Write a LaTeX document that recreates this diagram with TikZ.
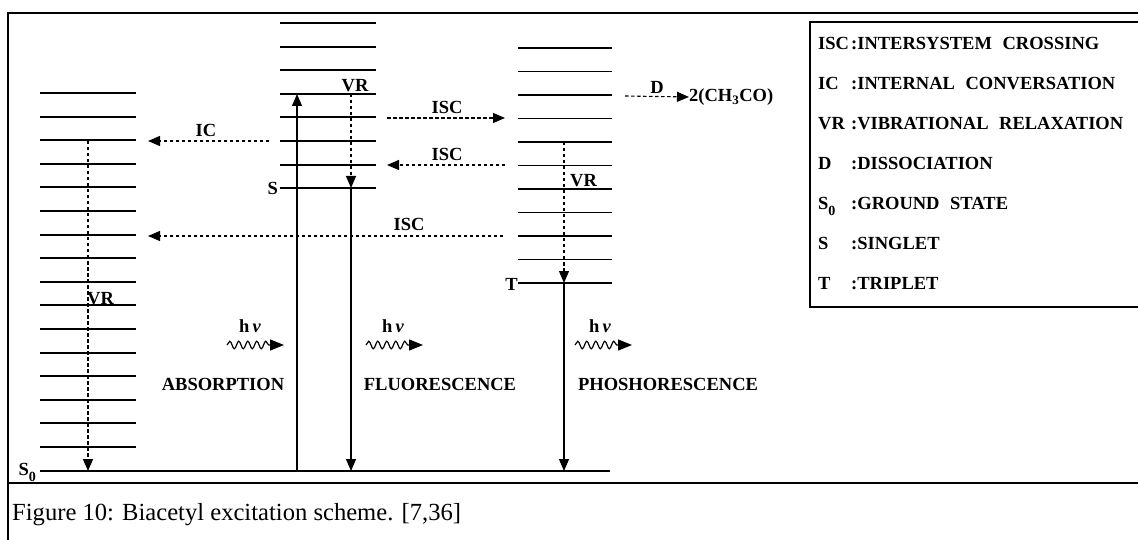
\documentclass[tikz,border=0pt]{standalone}
\usepackage{fontspec}
\setmainfont{Liberation Serif}
\usetikzlibrary{arrows.meta,decorations.pathmorphing}

\begin{document}
\begin{tikzpicture}[
    x=1pt, y=-1pt,
    panel/.style={line width=1.8pt},
    vlevel/.style={line width=1.9pt},
    trans/.style={-{Triangle[length=12pt,width=10pt]}, line width=1.1pt},
    relax/.style={-{Triangle[length=12pt,width=10pt]}, line width=1.1pt, dash pattern=on 3.5pt off 2.5pt},
    photon/.style={-{Triangle[length=14pt,width=11pt]}, line width=1.2pt, decorate,
      decoration={snake, amplitude=3.8pt, segment length=9pt, post length=14pt}},
    lbl/.style={font=\bfseries\fontsize{18.5}{20}\selectfont, inner sep=0pt},
    leg/.style={lbl, anchor=base west}
  ]
    \useasboundingbox (0,0) rectangle (1138,540);

    % Frame and caption
    \draw[panel] (1138,13) -- (8,13) -- (8,540);
    \draw[panel] (8,483) -- (1138,483);
    \node[anchor=base west, inner sep=0pt, font=\fontsize{24.6}{26}\selectfont] (caption) at (12,520)
      {Figure 10: Biacetyl excitation scheme. [7,36]};

    % Ground state S0 and its vibrational levels
    \draw[vlevel] (40,471) -- (610,471);
    \foreach \i in {0,...,15}
      \draw[vlevel] (40,{93+23.6*\i}) -- (136,{93+23.6*\i});
    \node[lbl, anchor=base east] (s0lab) at (36,475) {S\raisebox{-6pt}{\fontsize{14}{14}\selectfont 0}};

    % Singlet S
    \foreach \i in {0,...,7}
      \draw[vlevel] (280,{23+23.6*\i}) -- (376,{23+23.6*\i});
    \node[lbl, anchor=base east] (slab) at (278,195) {S};

    % Triplet T
    \foreach \i in {0,...,10}
      \draw[vlevel] (518,{48+23.5*\i}) -- (612,{48+23.5*\i});
    \node[lbl, anchor=base east] (tlab) at (518,290) {T};

    % Arrow end points
    \coordinate (absBot) at (297,471);
    \coordinate (absTop) at (297,94);
    \coordinate (vrSTop) at (351,94);
    \coordinate (fluTop) at (351,188);
    \coordinate (fluBot) at (351,471);
    \coordinate (vrTTop) at (564,142);
    \coordinate (phoTop) at (564,283);
    \coordinate (phoBot) at (564,471);
    \coordinate (vrGTop) at (88,141);
    \coordinate (vrGBot) at (88,471);
    \coordinate (icFrom) at (269,141);
    \coordinate (icTo) at (148,141);
    \coordinate (iscAFrom) at (387,118);
    \coordinate (iscATo) at (505,118);
    \coordinate (iscBFrom) at (505,165);
    \coordinate (iscBTo) at (387,165);
    \coordinate (iscCFrom) at (503,236);
    \coordinate (iscCTo) at (148,236);
    \coordinate (dFrom) at (625,96);

    % Radiative transitions
    \draw[trans] (absBot) -- (absTop);
    \draw[trans] (fluTop) -- (fluBot);
    \draw[trans] (phoTop) -- (phoBot);

    % Radiationless transitions
    \draw[relax] (vrSTop) -- (fluTop);
    \draw[relax] (vrTTop) -- (phoTop);
    \draw[relax] (vrGTop) -- (vrGBot);
    \draw[relax] (icFrom) -- (icTo);
    \draw[relax] (iscAFrom) -- (iscATo);
    \draw[relax] (iscBFrom) -- (iscBTo);
    \draw[relax] (iscCFrom) -- (iscCTo);

    % Dissociation
    \node[lbl, anchor=west] (prod) at (689,97) {2(CH\textsubscript{3}CO)};
    \draw[relax] (dFrom) -- (prod.west);
    \node[lbl, anchor=base] (dlab) at (657,94) {D};

    % Transition labels
    \node[lbl, anchor=base] (iclab) at (206,137) {IC};
    \node[lbl, anchor=base] (iscA) at (447,114) {ISC};
    \node[lbl, anchor=base] (iscB) at (447,161) {ISC};
    \node[lbl, anchor=base] (iscC) at (409,231) {ISC};
    \node[lbl, anchor=base] (vrS) at (355,92) {VR};
    \node[lbl, anchor=base west] (vrG) at (87,304) {VR};
    \node[lbl, anchor=base west] (vrT) at (570,187) {VR};

    % Photons
    \node[lbl, anchor=base] (hvA) at (250,332) {h\,{\itshape ν}};
    \node[lbl, anchor=base] (hvB) at (393,332) {h\,{\itshape ν}};
    \node[lbl, anchor=base] (hvC) at (600,332) {h\,{\itshape ν}};
    \coordinate (wA1) at (227,345); \coordinate (wA2) at (284,345);
    \coordinate (wB1) at (366,345); \coordinate (wB2) at (423,345);
    \coordinate (wC1) at (575,345); \coordinate (wC2) at (632,345);
    \draw[photon] (wA1) -- (wA2);
    \draw[photon] (wB1) -- (wB2);
    \draw[photon] (wC1) -- (wC2);
    \node[lbl, anchor=base] (absl) at (223,390) {ABSORPTION};
    \node[lbl, anchor=base] (flul) at (440,390) {FLUORESCENCE};
    \node[lbl, anchor=base] (phol) at (668,390) {PHOSHORESCENCE};

    % Legend
    \draw[line width=1.3pt] (1138,22) -- (810,22) -- (810,307) -- (1138,307);
    \node[leg] (legISC) at (818,49.5) {\makebox[33pt][l]{ISC}:INTERSYSTEM\hspace{6pt} CROSSING};
    \node[leg] (legIC) at (818,89.5) {\makebox[33pt][l]{IC}:INTERNAL\hspace{6pt} CONVERSATION};
    \node[leg] (legVR) at (818,129.5) {\makebox[33pt][l]{VR}:VIBRATIONAL\hspace{6pt} RELAXATION};
    \node[leg] (legD) at (818,169.5) {\makebox[33pt][l]{D}:DISSOCIATION};
    \node[leg] (legS0) at (818,209.5) {\makebox[33pt][l]{S\raisebox{-6pt}{\fontsize{14}{14}\selectfont 0}}:GROUND\hspace{6pt} STATE};
    \node[leg] (legS) at (818,249.5) {\makebox[33pt][l]{S}:SINGLET};
    \node[leg] (legT) at (818,289.5) {\makebox[33pt][l]{T}:TRIPLET};
\end{tikzpicture}
\end{document}
